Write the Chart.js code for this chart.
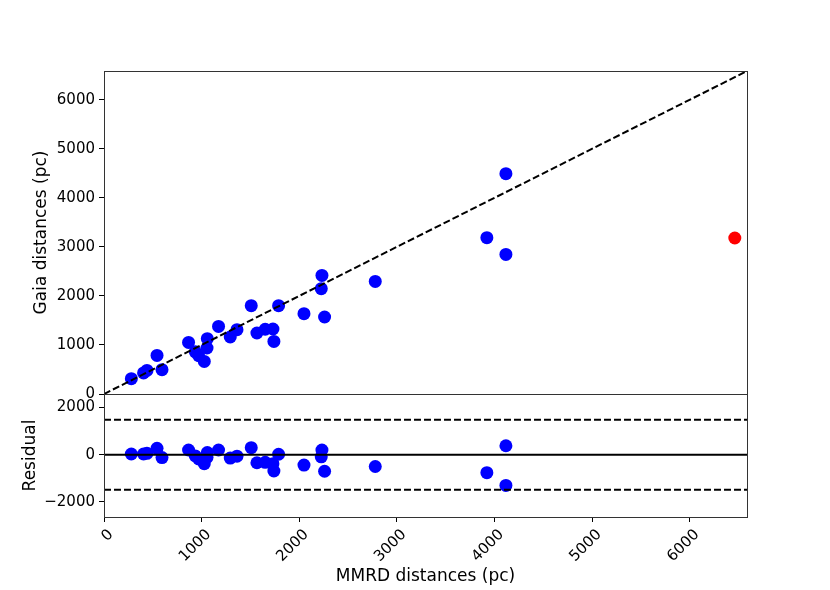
<!DOCTYPE html>
<html>
<head>
<meta charset="utf-8">
<script src="https://cdn.jsdelivr.net/npm/chart.js@4.4.1/dist/chart.umd.min.js"></script>
<style>
  html, body { margin: 0; padding: 0; background: #fff; }
  #wrap { position: relative; width: 830px; height: 590px; }
  #wrap canvas { position: absolute; left: 0; top: 0; }
</style>
</head>
<body>
<div id="wrap">
  <canvas id="main" width="830" height="590" style="width:830px;height:590px"></canvas>
  <canvas id="resid" width="830" height="590" style="width:830px;height:590px"></canvas>
</div>
<script>
// values
const mmrd = [280, 405, 440, 543, 594, 866, 935, 970, 1027, 1055, 1058, 1173, 1293, 1362,
  1508, 1566, 1651, 1730, 1740, 1788, 2048, 2225, 2232, 2259, 2778, 3921, 4116, 4116]
const gaia = [312, 430, 481, 787, 495, 1052, 860, 780, 665, 938, 1127, 1378, 1162, 1311,
  1800, 1244, 1320, 1325, 1072, 1800, 1637, 2147, 2418, 1570, 2296, 3187, 4491, 2846]
const residual = [30, 30, 60, 270, -120, 200, -50, -180, -380, -110, 90, 200, -140, -60,
  300, -340, -320, -380, -690, 20, -440, -90, 200, -700, -500, -760, 380, -1300]
const outlierMmrd = [6460]
const outlierGaia = [3180]

const xTicks = [0, 1000, 2000, 3000, 4000, 5000, 6000]
const gaiaTicks = [0, 1000, 2000, 3000, 4000, 5000, 6000]
const residTicks = [-2000, 0, 2000]

const axisMax = 6585
const residMin = -2640
const residMax = 2575
const residBand = 1485

const FONT = 'DejaVu Sans'
const tickFont = { family: FONT, size: 15 }
const titleFont = { family: FONT, size: 17 }

function toPoints(xs, ys) {
  return xs.map((x, i) => ({ x: x, y: ys[i] }))
}

function fixedTicks(values) {
  return (scale) => { scale.ticks = values.map((v) => ({ value: v })) }
}

// plain numbers, with a real minus sign like matplotlib
function plainLabel(v) {
  return v < 0 ? '\u2212' + Math.abs(v) : String(v)
}

// full box around each panel, like matplotlib spines
const framePlugin = {
  id: 'frame',
  afterDraw(chart) {
    const { ctx, chartArea: a } = chart
    ctx.save()
    ctx.strokeStyle = '#333'
    ctx.lineWidth = 1
    ctx.strokeRect(Math.round(a.left) + 0.5, Math.round(a.top) + 0.5,
      Math.round(a.right - a.left), Math.round(a.bottom - a.top))
    ctx.restore()
  },
}

const tickGrid = { drawOnChartArea: false, drawTicks: true, tickLength: 5, color: '#000', lineWidth: 1 }

// top panel: Gaia vs MMRD
new Chart(document.getElementById('main'), {
  type: 'scatter',
  data: {
    datasets: [
      {
        data: [{ x: 0, y: 0 }, { x: axisMax, y: axisMax }],
        showLine: true,
        borderColor: '#000',
        borderWidth: 2,
        borderDash: [7, 3],
        pointRadius: 0,
        order: 0,
      },
      {
        data: toPoints(mmrd, gaia),
        backgroundColor: '#0000ff',
        borderWidth: 0,
        pointRadius: 6.5,
        order: 1,
      },
      {
        data: toPoints(outlierMmrd, outlierGaia),
        backgroundColor: '#ff0000',
        borderWidth: 0,
        pointRadius: 6.5,
        order: 1,
      },
    ],
  },
  options: {
    responsive: false,
    animation: false,
    events: [],
    layout: { padding: { left: 0, top: 71, right: 83, bottom: 196 } },
    plugins: { legend: { display: false }, tooltip: { enabled: false } },
    scales: {
      x: { type: 'linear', display: false, min: 0, max: axisMax },
      y: {
        type: 'linear',
        min: 0,
        max: axisMax,
        afterBuildTicks: fixedTicks(gaiaTicks),
        afterFit: (s) => { s.width = 104 },
        grid: tickGrid,
        border: { display: false },
        ticks: { font: tickFont, color: '#000', padding: 4, callback: plainLabel },
        title: { display: true, text: 'Gaia distances (pc)', font: titleFont, color: '#000', padding: 31 },
      },
    },
  },
  plugins: [framePlugin],
})

// bottom panel: residuals
new Chart(document.getElementById('resid'), {
  type: 'scatter',
  data: {
    datasets: [
      {
        data: [{ x: 0, y: 0 }, { x: axisMax, y: 0 }],
        showLine: true,
        borderColor: '#000',
        borderWidth: 2,
        pointRadius: 0,
        order: 0,
      },
      {
        data: [{ x: 0, y: residBand }, { x: axisMax, y: residBand }],
        showLine: true,
        borderColor: '#000',
        borderWidth: 2,
        borderDash: [7, 3],
        pointRadius: 0,
        order: 0,
      },
      {
        data: [{ x: 0, y: -residBand }, { x: axisMax, y: -residBand }],
        showLine: true,
        borderColor: '#000',
        borderWidth: 2,
        borderDash: [7, 3],
        pointRadius: 0,
        order: 0,
      },
      {
        data: toPoints(mmrd, residual),
        backgroundColor: '#0000ff',
        borderWidth: 0,
        pointRadius: 6.5,
        order: 1,
      },
    ],
  },
  options: {
    responsive: false,
    animation: false,
    events: [],
    layout: { padding: { left: 0, top: 394, right: 83, bottom: 0 } },
    plugins: { legend: { display: false }, tooltip: { enabled: false } },
    scales: {
      x: {
        type: 'linear',
        min: 0,
        max: axisMax,
        afterBuildTicks: fixedTicks(xTicks),
        afterFit: (s) => { s.height = 73 },
        grid: tickGrid,
        border: { display: false },
        ticks: {
          font: tickFont,
          color: '#000',
          padding: 4,
          minRotation: 45,
          maxRotation: 45,
          autoSkip: false,
          labelOffset: 7,
          callback: plainLabel,
        },
        title: { display: true, text: 'MMRD distances (pc)', font: titleFont, color: '#000', padding: 3 },
      },
      y: {
        type: 'linear',
        min: residMin,
        max: residMax,
        afterBuildTicks: fixedTicks(residTicks),
        afterFit: (s) => { s.width = 104 },
        grid: tickGrid,
        border: { display: false },
        ticks: { font: tickFont, color: '#000', padding: 4, callback: plainLabel },
        title: { display: true, text: 'Residual', font: titleFont, color: '#000', padding: 20 },
      },
    },
  },
  plugins: [framePlugin],
})
</script>
</body>
</html>
